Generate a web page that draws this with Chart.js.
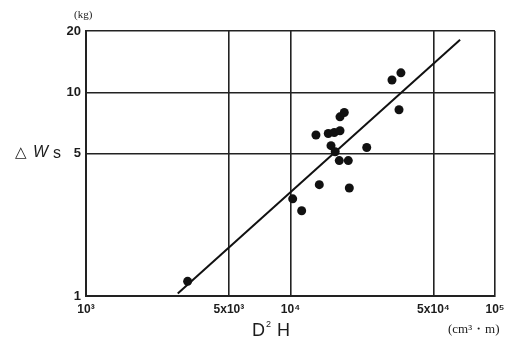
<!DOCTYPE html>
<html>
<head>
<meta charset="utf-8">
<script src="https://cdn.jsdelivr.net/npm/chart.js@4/dist/chart.umd.min.js"></script>
<style>
  html, body { margin: 0; padding: 0; background: #fff; }
  #wrap { width: 515px; height: 347px; }
</style>
</head>
<body>
<div id="wrap"><canvas id="ws-chart" width="515" height="347"></canvas></div>
<script>
// D²H (cm²·m) against weight gain ΔWs (kg), log-log
const dhValues = [3140, 10250, 11340, 13830, 19390, 17320, 19170, 15780, 16540, 23590,
  13320, 15300, 16370, 17460, 17460, 18320, 31350, 34670, 33930];
const wsValues = [1.18, 3.0, 2.62, 3.52, 3.39, 4.62, 4.62, 5.47, 5.11, 5.36,
  6.17, 6.28, 6.35, 6.48, 7.58, 7.96, 11.5, 12.46, 8.21];

// fitted regression line end points
const fitX = [2810, 67500];
const fitY = [1.03, 18.1];

const xTicks = [1000, 5000, 10000, 50000, 100000];
const xTickLabels = ["10³", "5x10³", "10⁴", "5x10⁴", "10⁵"];
const yTicks = [1, 5, 10, 20];
const yTickLabels = ["1", "5", "10", "20"];

const ink = "#1c1c1c";

const extraText = {
  id: "extraText",
  afterDraw(chart) {
    const ctx = chart.ctx;
    ctx.save();
    ctx.fillStyle = ink;
    ctx.textBaseline = "middle";
    ctx.textAlign = "left";

    // unit for the y axis
    ctx.font = "11px 'Liberation Serif', serif";
    ctx.fillText("(kg)", 74, 15);

    // y axis title: △Ws
    ctx.font = "15px 'DejaVu Sans', sans-serif";
    ctx.fillText("△", 15, 153);
    ctx.font = "italic 16px 'Liberation Sans', Arial, sans-serif";
    ctx.fillText("W", 33, 153);
    ctx.font = "16px 'Liberation Sans', Arial, sans-serif";
    ctx.fillText("s", 53, 154);

    // x axis title: D²H
    ctx.font = "18px 'Liberation Sans', Arial, sans-serif";
    ctx.fillText("D", 252, 331);
    ctx.font = "9px 'Liberation Sans', Arial, sans-serif";
    ctx.fillText("2", 266, 325);
    ctx.font = "18px 'Liberation Sans', Arial, sans-serif";
    ctx.fillText("H", 277, 331);

    // unit for the x axis
    ctx.font = "13px 'Liberation Serif', serif";
    ctx.fillText("(cm³・m)", 448, 330);
    ctx.restore();
  }
};

const tickFont = { family: "'Liberation Sans', Arial, sans-serif", size: 12, weight: "bold" };

new Chart(document.getElementById("ws-chart"), {
  type: "scatter",
  data: {
    datasets: [
      {
        label: "ΔWs",
        data: dhValues.map((x, i) => ({ x, y: wsValues[i] })),
        backgroundColor: "#111",
        borderWidth: 0,
        pointRadius: 4.5
      },
      {
        label: "fit",
        data: fitX.map((x, i) => ({ x, y: fitY[i] })),
        showLine: true,
        borderColor: "#111",
        borderWidth: 2,
        pointRadius: 0
      }
    ]
  },
  plugins: [extraText],
  options: {
    responsive: false,
    animation: false,
    layout: { padding: { top: 31, right: 20, left: 0, bottom: 0 } },
    plugins: { legend: { display: false }, tooltip: { enabled: false } },
    scales: {
      x: {
        type: "logarithmic",
        min: 1000,
        max: 100000,
        afterBuildTicks: (scale) => { scale.ticks = xTicks.map((v) => ({ value: v })); },
        afterFit: (scale) => { scale.height = 51; },
        ticks: {
          callback: (v, i) => xTickLabels[i],
          autoSkip: false,
          maxRotation: 0,
          padding: 6,
          color: ink,
          font: tickFont
        },
        grid: { color: "#222", lineWidth: 1.6, drawTicks: false },
        border: { color: "#222", width: 2 }
      },
      y: {
        type: "logarithmic",
        min: 1,
        max: 20,
        afterBuildTicks: (scale) => { scale.ticks = yTicks.map((v) => ({ value: v })); },
        afterFit: (scale) => { scale.width = 86; },
        ticks: {
          callback: (v, i) => yTickLabels[i],
          autoSkip: false,
          padding: 5,
          color: ink,
          font: { family: "'Liberation Sans', Arial, sans-serif", size: 13, weight: "bold" }
        },
        grid: { color: "#222", lineWidth: 1.6, drawTicks: false },
        border: { color: "#222", width: 2 }
      }
    }
  }
});
</script>
</body>
</html>
